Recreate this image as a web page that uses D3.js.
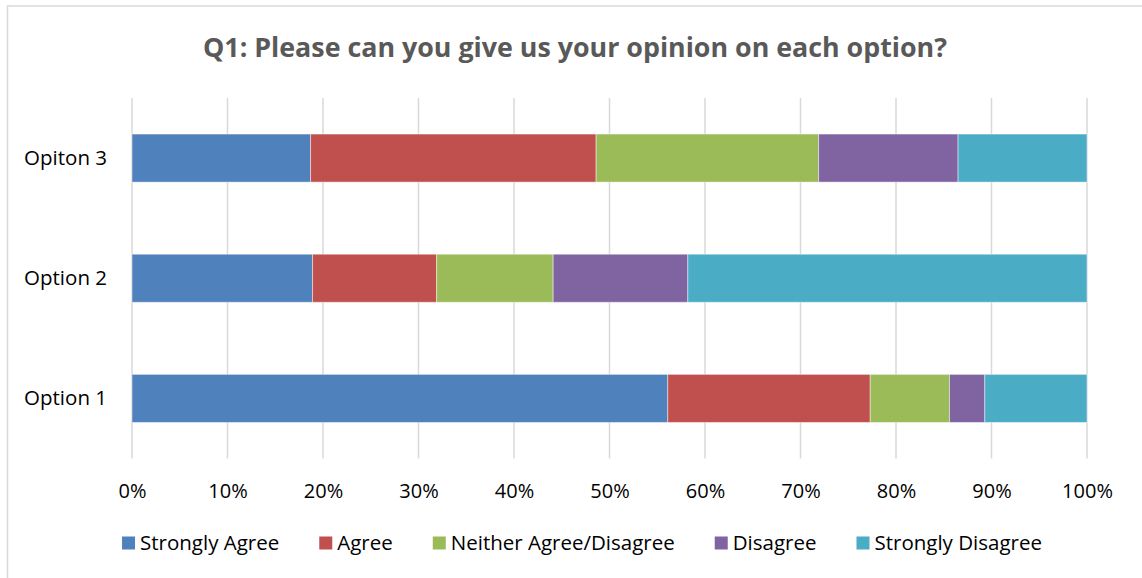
<!DOCTYPE html>
<html>
<head>
<meta charset="utf-8">
<script src="https://cdn.jsdelivr.net/npm/d3@7"></script>
<style>
  body { margin: 0; background: #fff; }
  svg { display: block; font-family: "Open Sans", sans-serif; }
</style>
</head>
<body>
<script>
// categories (bottom to top, as in the source sheet)
var categories = ["Option 1", "Option 2", "Opiton 3"];
var seriesNames = ["Strongly Agree", "Agree", "Neither Agree/Disagree", "Disagree", "Strongly Disagree"];
// share of answers, percent
var stronglyAgree    = [56.1, 18.9, 18.7];
var agree            = [21.2, 13.0, 29.9];
var neither          = [8.3, 12.2, 23.3];
var disagree         = [3.7, 14.1, 14.6];
var stronglyDisagree = [10.7, 41.8, 13.5];
var tickValues = [0, 10, 20, 30, 40, 50, 60, 70, 80, 90, 100];

var colors = ["#4f81bd", "#c0504d", "#9bbb59", "#8064a2", "#4bacc6"];

// build rows for d3.stack
var values = [stronglyAgree, agree, neither, disagree, stronglyDisagree];
var rows = categories.map(function(c, i) {
	var r = { cat: c };
	seriesNames.forEach(function(s, j) { r[s] = values[j][i]; });
	return r;
});

var W = 1142, H = 578;
var margin = { top: 98, right: 55, bottom: 119.5, left: 132 };

var svg = d3.select("body").append("svg")
	.attr("width", W)
	.attr("height", H);

// chart frame
svg.append("rect")
	.attr("x", 7.5).attr("y", 6)
	.attr("width", W + 10).attr("height", H + 10)
	.attr("fill", "#fff")
	.attr("stroke", "#d9d9d9")
	.attr("stroke-width", 1.5);

var x = d3.scaleLinear().domain([0, 100]).range([margin.left, W - margin.right]);
var y = d3.scaleBand()
	.domain(categories.slice().reverse())
	.range([margin.top, H - margin.bottom])
	.paddingInner(0.6)
	.paddingOuter(0.3);

// gridlines
svg.append("g")
	.attr("class", "grid")
	.selectAll("line")
	.data(tickValues)
	.enter()
	.append("line")
	.attr("x1", function(d) { return x(d); })
	.attr("x2", function(d) { return x(d); })
	.attr("y1", margin.top)
	.attr("y2", H - margin.bottom)
	.attr("stroke", "#d9d9d9")
	.attr("stroke-width", 1.5);

// bars
var stack = d3.stack().keys(seriesNames);
var layers = stack(rows);

svg.append("g")
	.selectAll("g")
	.data(layers)
	.enter()
	.append("g")
	.attr("fill", function(d, i) { return colors[i]; })
	.selectAll("rect")
	.data(function(d) { return d; })
	.enter()
	.append("rect")
	.attr("x", function(d) { return x(d[0]); })
	.attr("y", function(d) { return y(d.data.cat); })
	.attr("width", function(d) { return x(d[1]) - x(d[0]); })
	.attr("height", y.bandwidth())
	.attr("stroke", "#ffffff")
	.attr("stroke-opacity", 0.45)
	.attr("stroke-width", 1);

// x axis labels
var xAxis = d3.axisBottom(x)
	.tickValues(tickValues)
	.tickSize(0)
	.tickPadding(0)
	.tickFormat(function(d) { return d + "%"; });

var gx = svg.append("g")
	.attr("transform", "translate(0," + (H - margin.bottom) + ")")
	.call(xAxis);
gx.select(".domain").remove();
gx.selectAll("text")
	.attr("y", 39)
	.attr("dy", null)
	.attr("fill", "#000")
	.style("font-size", "20px")
	.style("font-family", "'Open Sans', sans-serif");

// y axis labels
var yAxis = d3.axisLeft(y).tickSize(0).tickPadding(25);
var gy = svg.append("g")
	.attr("transform", "translate(" + margin.left + ",0)")
	.call(yAxis);
gy.select(".domain").remove();
gy.selectAll("text")
	.attr("fill", "#000")
	.style("font-size", "20.5px")
	.style("font-family", "'Open Sans', sans-serif");

// title
svg.append("text")
	.attr("x", 575)
	.attr("y", 57)
	.attr("text-anchor", "middle")
	.attr("fill", "#595959")
	.attr("font-weight", "bold")
	.attr("font-size", 26)
	.attr("textLength", 744)
	.attr("lengthAdjust", "spacingAndGlyphs")
	.text("Q1: Please can you give us your opinion on each option?");

// legend
var legend = svg.append("g").attr("class", "legend");
var lx = 0;
var gap = 40;
seriesNames.forEach(function(s, i) {
	var item = legend.append("g").attr("transform", "translate(" + lx + ",0)");
	item.append("rect")
		.attr("x", 0).attr("y", -6.5)
		.attr("width", 13).attr("height", 13)
		.attr("fill", colors[i]);
	var t = item.append("text")
		.attr("x", 18)
		.attr("y", 7)
		.attr("fill", "#000")
		.attr("font-size", 20.5)
		.text(s);
	lx += 18 + t.node().getComputedTextLength() + gap;
});
var legendWidth = lx - gap;
legend.attr("transform", "translate(" + (582 - legendWidth / 2) + ",543)");
</script>
</body>
</html>
